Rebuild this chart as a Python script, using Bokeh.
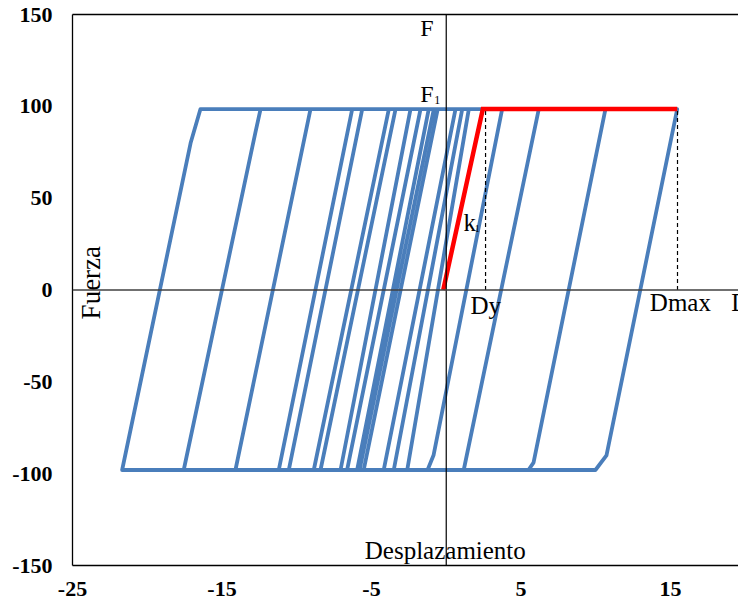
import math
from bokeh.plotting import figure
from bokeh.models import Range1d, Span, LinearAxis, FixedTicker
from bokeh.embed import file_html
from bokeh.resources import INLINE
from bokeh.core.properties import value

# ---------------- data ----------------
# hysteresis path vertices (displacement, force)
path_x = [-2.61, 1.51, 15.45, 10.72, 9.98, -21.68, -17.10, -16.44, 3.74, -0.85, -1.25,
          -17.56, -12.76, -12.42, 10.65, 5.84, 5.50, -14.10, -9.08, 6.19, 1.17,
          -11.20, -6.29, 1.07, -3.51, -10.53, -5.62, 0.62, -4.18, -8.86, -3.84,
          -0.57, -5.52, -8.41, -3.39, -0.83, -5.80, -7.07, -2.39, -1.17, -5.96,
          -6.63, -1.72]
path_y = [-98, 98.5, 98.5, -90, -98, -98, 80, 98.5, 98.5, -90, -98,
          -98, 86, 98.5, 98.5, -94, -98, -98, 98.5, 98.5, -98,
          -98, 98.5, 98.5, -98, -98, 98.5, 98.5, -98, -98, 98.5,
          98.5, -98, -98, 98.5, 98.5, -98, -98, 98.5, 98.5, -98,
          -98, 98.5]

# idealised bilinear envelope (red)
env_x = [-0.2, 2.45, 15.45]
env_y = [0, 98.5, 98.5]

# reference dashed guides (Dy, Dmax)
guide_x = [2.63, 15.47]
guide_top = [98.5, 98.5]

x_ticks = [-25, -15, -5, 5, 15]
y_ticks = [-150, -100, -50, 0, 50, 100, 150]

BLUE = "#4A7EBB"
SERIF = "Liberation Serif"
AXFONT = "'Liberation Serif'"

p = figure(width=738, height=606,
           x_range=Range1d(-25, 19.55), y_range=Range1d(-150, 150),
           output_backend="svg", toolbar_location=None,
           min_border_left=72, min_border_right=0, min_border_top=14, min_border_bottom=41,
           x_axis_location=None, y_axis_location=None)
p.outline_line_color = None
p.xgrid.visible = False
p.ygrid.visible = False
p.background_fill_color = "white"
p.border_fill_color = "white"


def style_axis(ax, ticks):
    ax.ticker = FixedTicker(ticks=ticks)
    ax.major_label_overrides = {t: str(t) for t in ticks}
    ax.axis_line_color = "black"
    ax.axis_line_width = 1.3
    ax.major_tick_line_color = None
    ax.minor_tick_line_color = None
    ax.major_tick_in = 0
    ax.major_tick_out = 0
    ax.major_label_text_font = AXFONT
    ax.major_label_text_font_style = "bold"
    ax.major_label_text_font_size = "22px"
    ax.major_label_text_color = "black"


ly = LinearAxis()
style_axis(ly, y_ticks)
ly.major_label_standoff = 20
p.add_layout(ly, "left")

bx = LinearAxis()
style_axis(bx, x_ticks)
bx.major_label_standoff = 16
p.add_layout(bx, "below")

tx = LinearAxis()
tx.ticker = FixedTicker(ticks=[])
tx.axis_line_color = "black"
tx.axis_line_width = 1.3
tx.major_tick_line_color = None
tx.minor_tick_line_color = None
tx.major_label_text_font_size = "0px"
tx.major_label_standoff = 0
tx.major_tick_out = 0
tx.major_tick_in = 0
p.add_layout(tx, "above")

# inner axes through origin
p.add_layout(Span(location=0, dimension="height", line_color="black", line_width=1.2))
p.add_layout(Span(location=0, dimension="width", line_color="#404040", line_width=1.5))

# hysteresis loops
p.line(path_x, path_y, line_color=BLUE, line_width=3.8, line_join="round")

# dashed guides
p.segment(x0=guide_x, y0=[0, 0], x1=guide_x, y1=guide_top,
          line_color="black", line_width=1.2, line_dash="4 3")

# bilinear envelope
p.line(env_x, env_y, line_color="red", line_width=4.5, line_join="miter")

# annotation texts
def txt(x, y, s, size, align="left", baseline="alphabetic", angle=0.0):
    p.text(x=[x], y=[y], text=[s], text_font=value(SERIF), text_font_size=size,
           text_align=align, text_baseline=baseline, text_color="black", angle=angle)

txt(-0.85, 142.9, "F", "24px", align="right")
txt(-0.85, 106.9, "F", "24px", align="right")
txt(-0.80, 103.6, "1", "12px")
txt(1.15, 36.7, "k", "25px")
txt(1.90, 33.6, "1", "10px")
txt(1.62, -8.5, "Dy", "25px")
txt(13.62, -6.7, "Dmax", "25px")
txt(19.06, -6.7, "D", "25px")
txt(-23.73, 4.0, "Fuerza", "27px", align="center", baseline="middle", angle=math.pi / 2)
txt(-5.45, -141.8, "Desplazamiento", "25px")

open("out.html", "w").write(file_html(p, INLINE))
